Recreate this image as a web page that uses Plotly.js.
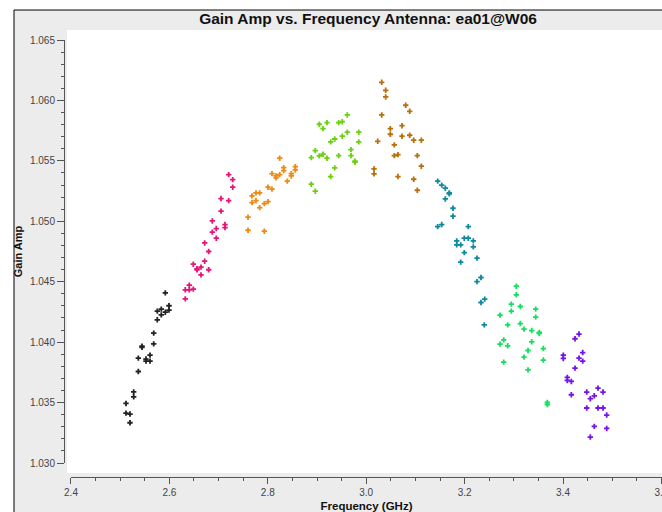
<!DOCTYPE html>
<html>
<head>
<meta charset="utf-8">
<script src="https://cdn.plot.ly/plotly-3.0.1.min.js"></script>
<style>html,body{margin:0;padding:0;background:#fff;overflow:hidden;}#chart{width:662px;height:512px;}</style>
</head>
<body>
<div id="chart"></div>
<script>
// ---- data ----
const blackFreq = [2.5917,2.5992,2.5754,2.5835,2.5917,2.5992,2.5835,2.5754,2.5681,2.5681,2.5443,2.5443,2.5606,2.5368,2.5524,2.5524,2.5606,2.5368,2.5274,2.5274,2.5118,2.5118,2.5199,2.5199];
const blackAmp  = [1.04408,1.04301,1.04257,1.04273,1.04248,1.04265,1.04226,1.04185,1.04075,1.03986,1.03967,1.03957,1.03893,1.03868,1.03860,1.03843,1.03843,1.03757,1.03589,1.03548,1.03493,1.03413,1.03405,1.03333];

const pinkFreq = [2.7205,2.7287,2.7287,2.7049,2.7205,2.7049,2.6872,2.7130,2.7130,2.6953,2.6872,2.6953,2.6717,2.6799,2.6717,2.6486,2.6642,2.6561,2.6561,2.6799,2.6642,2.6404,2.6323,2.6404,2.6486,2.6323];
const pinkAmp  = [1.05386,1.05345,1.05282,1.05188,1.05171,1.05084,1.05003,1.04973,1.04948,1.04940,1.04910,1.04860,1.04821,1.04750,1.04670,1.04645,1.04621,1.04607,1.04599,1.04599,1.04557,1.04472,1.04433,1.04433,1.04439,1.04358];

const orangeFreq = [2.8242,2.8323,2.8323,2.8559,2.8559,2.8085,2.8167,2.8167,2.8242,2.8478,2.8478,2.8396,2.8004,2.8085,2.7760,2.7835,2.7679,2.7760,2.7679,2.8004,2.7929,2.7835,2.7598,2.7598,2.7929];
const orangeAmp  = [1.05522,1.05444,1.05419,1.05452,1.05425,1.05394,1.05375,1.05359,1.05386,1.05394,1.05375,1.05332,1.05282,1.05266,1.05235,1.05235,1.05210,1.05171,1.05155,1.05163,1.05146,1.05113,1.05034,1.04926,1.04918];

const limeFreq = [2.9616,2.9047,2.9203,2.9122,2.9441,2.9514,2.9616,2.9848,2.9360,2.9278,2.9514,2.9848,2.8965,2.8884,2.9047,2.9122,2.9203,2.9441,2.9691,2.9691,2.9772,2.9772,2.9360,2.9278,2.8884,2.8965];
const limeAmp  = [1.05880,1.05803,1.05816,1.05767,1.05816,1.05824,1.05737,1.05737,1.05681,1.05657,1.05704,1.05657,1.05585,1.05527,1.05541,1.05555,1.05522,1.05543,1.05593,1.05543,1.05497,1.05489,1.05442,1.05370,1.05307,1.05249];

const brownFreq = [3.0315,3.0396,3.0396,3.0803,3.0884,3.0315,3.0728,3.0490,3.0490,3.0884,3.0728,3.0965,3.1120,3.0234,3.0571,3.0571,3.0646,3.1039,3.0159,3.0159,3.1120,3.0646,3.0965,3.1039];
const brownAmp  = [1.06150,1.06084,1.06029,1.05960,1.05910,1.05880,1.05791,1.05767,1.05720,1.05712,1.05704,1.05671,1.05671,1.05662,1.05632,1.05543,1.05552,1.05543,1.05433,1.05392,1.05456,1.05370,1.05348,1.05257];

const tealFreq = [3.1453,3.1535,3.1608,3.1689,3.1689,3.1608,3.1764,3.1764,3.1453,3.1535,3.2075,3.1994,3.2075,3.1840,3.2177,3.1840,3.1921,3.2177,3.1994,3.2252,3.1921,3.2333,3.2252,3.2409,3.2333,3.2400];
const tealAmp  = [1.05332,1.05299,1.05274,1.05235,1.05227,1.05185,1.05108,1.05042,1.04956,1.04973,1.04956,1.04860,1.04860,1.04838,1.04838,1.04805,1.04805,1.04788,1.04741,1.04695,1.04662,1.04535,1.04501,1.04356,1.04328,1.04143];

const greenFreq = [3.3051,3.3051,3.2949,3.3132,3.3445,3.2949,3.2720,3.3445,3.2876,3.3132,3.3207,3.3364,3.3518,3.3518,3.2795,3.2720,3.2876,3.3364,3.3289,3.3600,3.3207,3.2795,3.3600,3.3289,3.3681,3.3681];
const greenAmp  = [1.04463,1.04392,1.04315,1.04295,1.04273,1.04257,1.04224,1.04207,1.04143,1.04154,1.04108,1.04096,1.04080,1.04072,1.04019,1.03984,1.03970,1.04003,1.03931,1.03947,1.03876,1.03835,1.03852,1.03771,1.03501,1.03484];

const purpleFreq = [3.4325,3.4244,3.4006,3.4006,3.4400,3.4325,3.4400,3.4244,3.4087,3.4087,3.4169,3.4169,3.4482,3.4711,3.4813,3.4636,3.4555,3.4482,3.4711,3.4813,3.4888,3.4636,3.4888,3.4555];
const purpleAmp  = [1.04067,1.04028,1.03893,1.03865,1.03914,1.03868,1.03843,1.03785,1.03708,1.03683,1.03675,1.03565,1.03587,1.03620,1.03587,1.03556,1.03532,1.03455,1.03455,1.03455,1.03397,1.03303,1.03286,1.03215];

const seriesColors = ['#222222','#e6157a','#ee8a12','#6ad10c','#b8700c','#0e8a9c','#14e060','#7414e6'];
const chartTitle = 'Gain Amp vs. Frequency Antenna: ea01@W06';
const xTitle = 'Frequency (GHz)';
const yTitle = 'Gain Amp';

// ---- build traces ----
const groups = [
  [blackFreq, blackAmp], [pinkFreq, pinkAmp], [orangeFreq, orangeAmp], [limeFreq, limeAmp],
  [brownFreq, brownAmp], [tealFreq, tealAmp], [greenFreq, greenAmp], [purpleFreq, purpleAmp]
];
const traces = groups.map((g, i) => ({
  type: 'scatter', mode: 'markers', x: g[0], y: g[1], showlegend: false, hoverinfo: 'skip',
  marker: {symbol: 'cross', size: 4.5, color: seriesColors[i], line: {width: 0}}
}));

const FONT = '"Liberation Sans", Arial, Helvetica, sans-serif';
const axisCol = '#555555';

const layout = {
  width: 662, height: 512,
  margin: {l: 64, r: 0, t: 40, b: 35, pad: 0},
  paper_bgcolor: '#ffffff',
  plot_bgcolor: '#ffffff',
  font: {family: FONT, color: '#333333', size: 10},
  title: {
    text: chartTitle, xref: 'container', x: 0.556, xanchor: 'center',
    yref: 'container', y: 0.963, yanchor: 'middle',
    font: {family: FONT, size: 15.5, color: '#111111', weight: 'bold'}
  },
  xaxis: {
    range: [2.4, 3.6012], domain: [0.0117, 1], anchor: 'free', position: 0,
    showline: true, linecolor: axisCol, linewidth: 1, mirror: false,
    ticks: 'outside', ticklen: 6, tickwidth: 1, tickcolor: axisCol,
    tick0: 2.4, dtick: 0.2, tickformat: '.1f', ticklabeloverflow: 'allow',
    tickfont: {family: FONT, size: 10, color: '#444444'},
    minor: {ticks: 'outside', ticklen: 3, tickwidth: 1, tickcolor: axisCol, dtick: 0.05, tick0: 2.4, showgrid: false},
    showgrid: false, zeroline: false, fixedrange: true,
    title: {text: xTitle, font: {family: FONT, size: 11.5, color: '#111111', weight: 'bold'}, standoff: 4}
  },
  yaxis: {
    range: [1.030, 1.065], domain: [0.032, 1], anchor: 'free', position: 0,
    showline: true, linecolor: axisCol, linewidth: 1,
    ticks: 'outside', ticklen: 7, tickwidth: 1, tickcolor: axisCol,
    tick0: 1.030, dtick: 0.005, tickformat: '.3f',
    tickfont: {family: FONT, size: 10, color: '#444444'},
    minor: {ticks: 'outside', ticklen: 3, tickwidth: 1, tickcolor: axisCol, dtick: 0.001, tick0: 1.030, showgrid: false},
    showgrid: false, zeroline: false, fixedrange: true,
    title: {text: yTitle, font: {family: FONT, size: 11, color: '#111111', weight: 'bold'}, standoff: 4}
  },
  shapes: [
    {type: 'rect', xref: 'paper', yref: 'paper', layer: 'below',
     x0: -0.0836, x1: 1.3, y0: -0.3, y1: 1.0686,
     fillcolor: '#ececec', line: {width: 0}},
    {type: 'line', xref: 'paper', yref: 'paper', layer: 'below',
     x0: -0.0836, x1: 1.3, y0: 1.0686, y1: 1.0686, line: {color: '#000000', width: 1}},
    {type: 'line', xref: 'paper', yref: 'paper', layer: 'below',
     x0: -0.0836, x1: -0.0836, y0: -0.3, y1: 1.0686, line: {color: '#000000', width: 1}},
    {type: 'rect', xref: 'paper', yref: 'paper', layer: 'below',
     x0: 0.005, x1: 1.3, y0: 0.00915, y1: 1.0229,
     fillcolor: '#ffffff', line: {width: 0}}
  ]
};

Plotly.newPlot('chart', traces, layout, {displayModeBar: false, staticPlot: true});
</script>
</body>
</html>
